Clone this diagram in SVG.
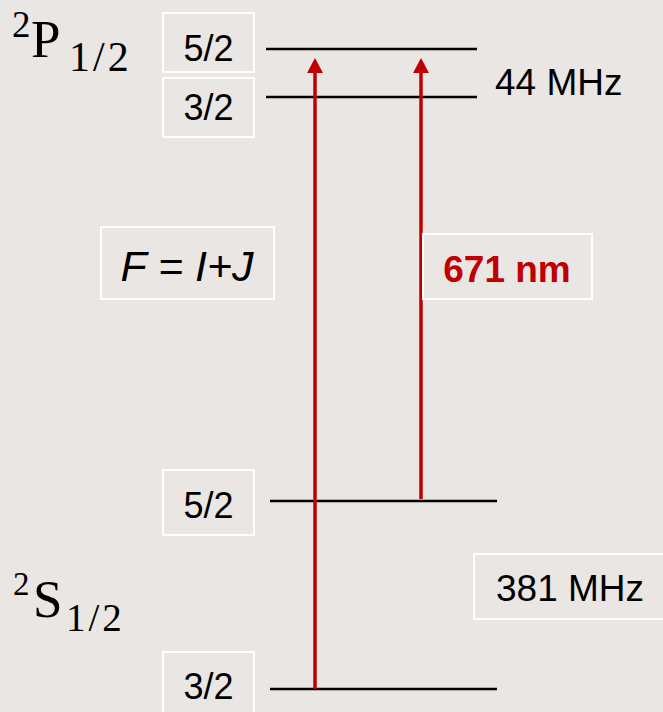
<svg xmlns="http://www.w3.org/2000/svg" width="663" height="712" viewBox="0 0 663 712">
<defs>
<style>
.bg{fill:#EAE6E3}
.box{fill:#EAE6E3;stroke:#FFFFFF;stroke-width:2}
.lbl{font-family:"Liberation Sans",Arial,sans-serif;font-size:36px;fill:#000}
.big{font-size:37px}
.term{font-family:"Liberation Serif","Times New Roman",serif;fill:#000}
.lvl{stroke:#000;stroke-width:2.5;fill:none}
.beam{stroke:#C00000;stroke-width:3.5;fill:none}
.head{fill:#C00000}
</style>
</defs>
<rect class="bg" x="0" y="0" width="663" height="712"/>

<g id="term-P">
<text class="term" x="12" y="37" font-size="37">2</text>
<text class="term" x="31" y="57" font-size="53">P</text>
<text class="term" x="69" y="71" font-size="42" letter-spacing="3">1/2</text>
</g>
<g id="term-S">
<text class="term" x="13" y="595" font-size="33">2</text>
<text class="term" x="33" y="617" font-size="53">S</text>
<text class="term" x="66" y="631" font-size="39" letter-spacing="3">1/2</text>
</g>

<g id="connectors">
<line class="lvl" x1="266" y1="49" x2="477" y2="49"/>
<line class="lvl" x1="266" y1="97" x2="477" y2="97"/>
<line class="lvl" x1="270" y1="501" x2="497" y2="501"/>
<line class="lvl" x1="270" y1="689" x2="497" y2="689"/>
<line class="beam" x1="315" y1="689" x2="315" y2="72"/>
<path class="head" d="M307,73 L315,58 L323,73 Z"/>
<line class="beam" x1="421" y1="499" x2="421" y2="72"/>
<path class="head" d="M413,73 L421,58 L429,73 Z"/>
</g>

<g id="node-P52">
<rect class="box" x="163" y="13" width="91" height="59"/>
<text class="lbl" x="208.5" y="61" text-anchor="middle">5/2</text>
</g>
<g id="node-P32">
<rect class="box" x="163" y="78" width="91" height="59"/>
<text class="lbl" x="208.5" y="120" text-anchor="middle">3/2</text>
</g>
<g id="node-S52">
<rect class="box" x="163" y="470" width="91" height="65"/>
<text class="lbl" x="208.5" y="518" text-anchor="middle">5/2</text>
</g>
<g id="node-S32">
<rect class="box" x="163" y="652" width="91" height="70"/>
<text class="lbl" x="208.5" y="699" text-anchor="middle">3/2</text>
</g>
<g id="node-F">
<rect class="box" x="101" y="227" width="173" height="72"/>
<text class="lbl" x="187" y="281" text-anchor="middle" style="font-size:43px;font-style:italic">F = I+J</text>
</g>
<g id="node-wl">
<rect class="box" x="423" y="234" width="169" height="65"/>
<text class="lbl big" x="507" y="282" text-anchor="middle" style="font-weight:bold;fill:#C00000">671 nm</text>
</g>
<g id="node-44">
<text class="lbl big" x="495" y="95">44 MHz</text>
</g>
<g id="node-381">
<rect class="box" x="474" y="554" width="200" height="65"/>
<text class="lbl big" x="496" y="601">381 MHz</text>
</g>
</svg>
